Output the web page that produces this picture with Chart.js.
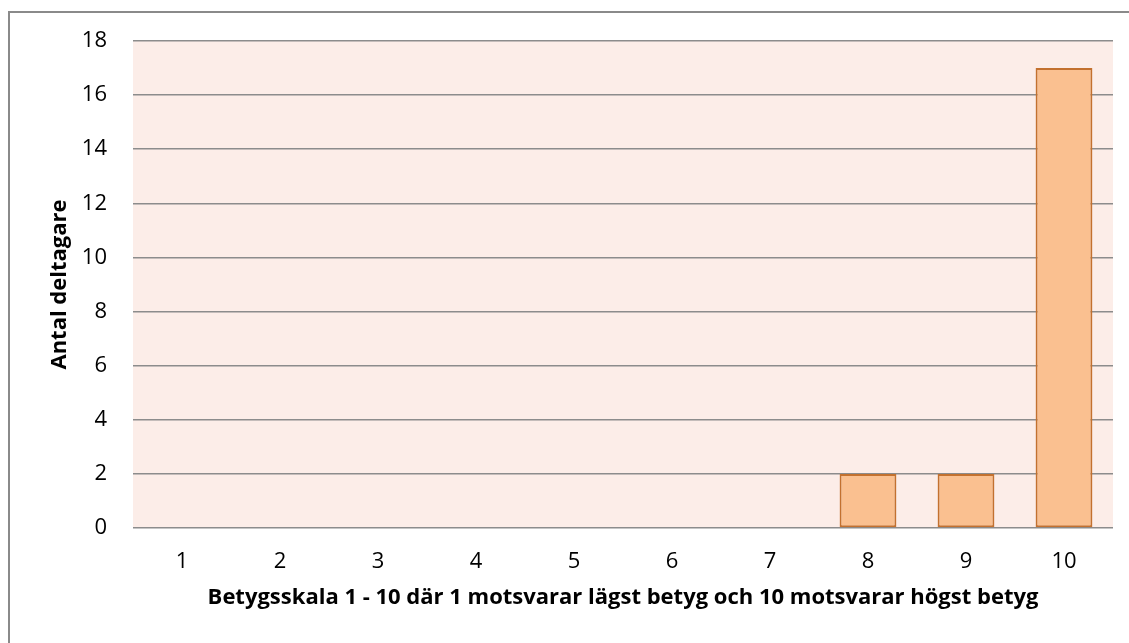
<!DOCTYPE html>
<html>
<head>
<meta charset="utf-8">
<script src="https://cdn.jsdelivr.net/npm/chart.js@4/dist/chart.umd.min.js"></script>
<style>
  html, body { margin: 0; padding: 0; background: #fff; }
  #wrap { position: absolute; left: 0; top: 0; width: 1129px; height: 643px; }
</style>
</head>
<body>
<div id="wrap"><canvas id="chart"></canvas></div>
<script>
var categories = ['1', '2', '3', '4', '5', '6', '7', '8', '9', '10'];
var antal = [0, 0, 0, 0, 0, 0, 0, 2, 2, 17];
var yTitle = 'Antal deltagare';
var xTitle = 'Betygsskala 1 - 10 där 1 motsvarar lägst betyg och 10 motsvarar högst betyg';

var fontName = '"Open Sans", sans-serif';

// frame round the chart and tinted plot area
var backdrop = {
  id: 'backdrop',
  beforeDraw: function(chart){
    var ctx = chart.ctx;
    var a = chart.chartArea;
    ctx.save();
    ctx.strokeStyle = '#8a8a8a';
    ctx.lineWidth = 2;
    ctx.strokeRect(9, 12, 1200, 700);
    ctx.fillStyle = '#fcede8';
    ctx.fillRect(a.left, a.top, a.right - a.left, a.bottom - a.top);
    ctx.restore();
  }
};

new Chart(document.getElementById('chart'), {
  type: 'bar',
  data: {
    labels: categories,
    datasets: [{
      label: yTitle,
      data: antal,
      backgroundColor: '#fac090',
      borderColor: '#c3712f',
      borderWidth: 2,
      borderSkipped: false,
      barPercentage: 0.58,
      categoryPercentage: 1
    }]
  },
  options: {
    responsive: true,
    maintainAspectRatio: false,
    animation: false,
    layout: { padding: { top: 41, right: 16, left: 0, bottom: 0 } },
    plugins: {
      legend: { display: false },
      tooltip: { enabled: false }
    },
    scales: {
      x: {
        grid: { display: false },
        border: { display: false },
        ticks: { color: '#000', font: { family: fontName, size: 22 }, padding: 13 },
        title: {
          display: true, text: xTitle, color: '#000',
          font: { family: fontName, size: 22, weight: 'bold' },
          padding: { top: 0, bottom: 32 }
        },
        afterFit: function(s){ s.height = 115; }
      },
      y: {
        min: 0, max: 18,
        ticks: { stepSize: 2, color: '#000', font: { family: fontName, size: 22 }, padding: 26 },
        grid: { color: '#8c8c8c', lineWidth: 1.5, drawTicks: false },
        border: { display: false },
        title: {
          display: true, text: yTitle, color: '#000',
          font: { family: fontName, size: 22, weight: 'bold' },
          padding: { top: 47, bottom: 0 }
        },
        afterFit: function(s){ s.width = 133; }
      }
    }
  },
  plugins: [backdrop]
});
</script>
</body>
</html>
